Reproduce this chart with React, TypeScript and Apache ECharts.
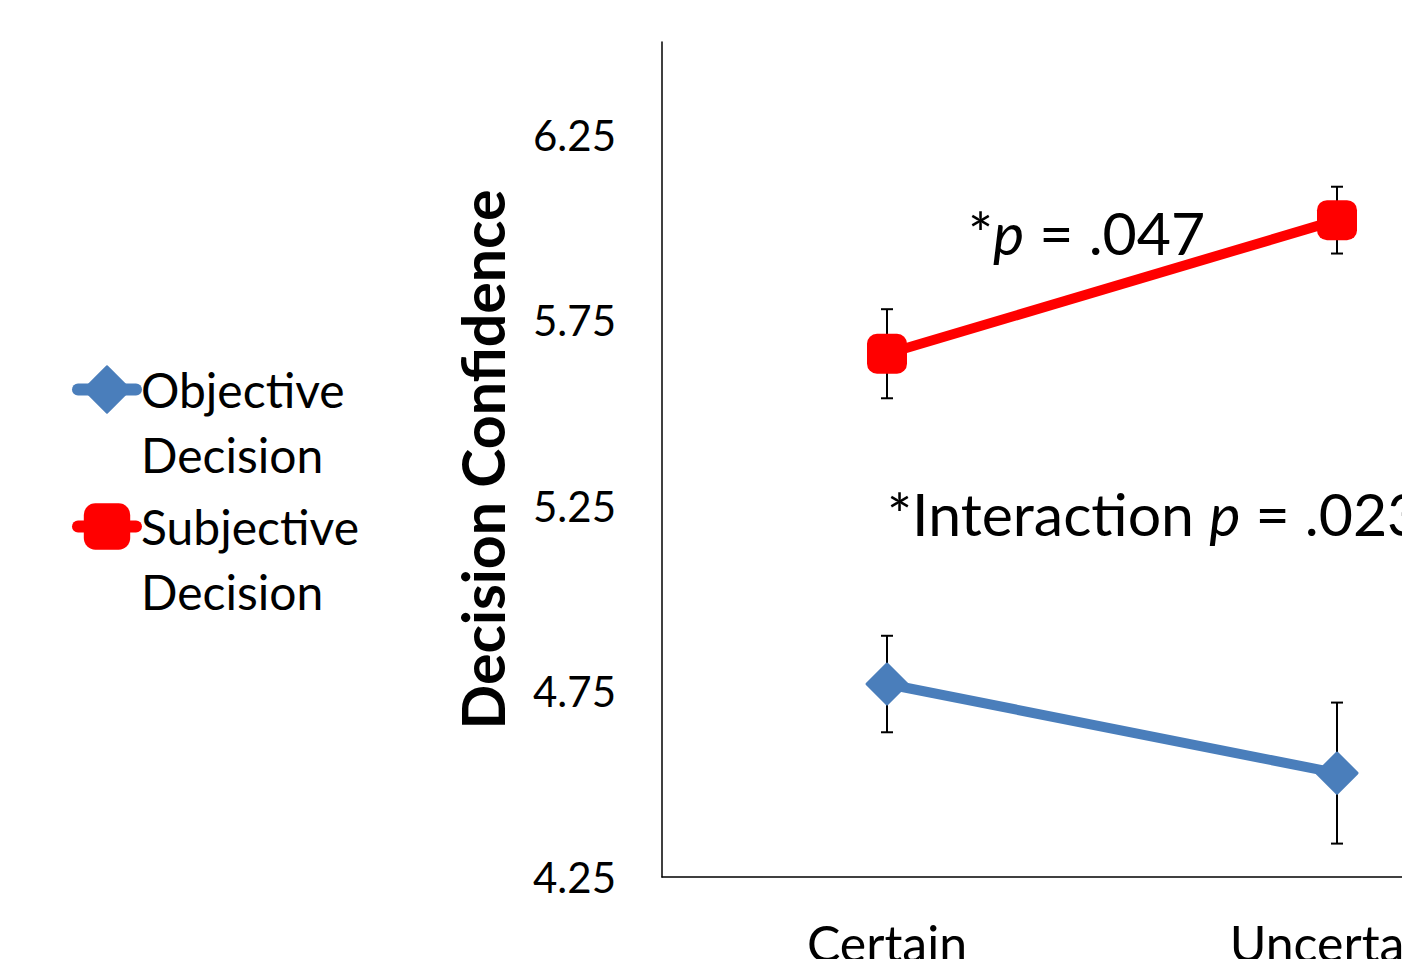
import React, { useEffect, useRef } from "react";
import * as echarts from "echarts";

const categories = ["Certain", "Uncertain"];
const objectiveMeans = [4.77, 4.53];
const objectiveErrors = [0.13, 0.19];
const subjectiveMeans = [5.66, 6.02];
const subjectiveErrors = [0.12, 0.09];
const yTickLabels = [4.25, 4.75, 5.25, 5.75, 6.25];
const seriesNames = ["Objective\nDecision", "Subjective\nDecision"];
const axisTitle = "Decision Confidence";
const annotationSimple = ["*", "p", " = .047"];
const annotationInteraction = ["*Interaction ", "p", " = .023"];

const BLUE = "#4A7EBB";
const RED = "#FF0000";
const FONT = "Lato";
// The chart is wider than the viewport: the reference crops the right part of the plot.
const CHART_W = 1602;
const CHART_H = 959;

export default function App() {
  const ref = useRef<HTMLDivElement>(null);

  useEffect(() => {
    document.body.style.margin = "0";
    document.body.style.overflow = "hidden";
    document.documentElement.style.overflow = "hidden";
    const chart = echarts.init(ref.current!, null, { renderer: "svg" });

    const errData = (means: number[], errs: number[]) =>
      means.map((m, i) => [i, m - errs[i], m + errs[i]]);

    const renderErr = (params: any, api: any) => {
      const x = api.value(0);
      const lo = api.coord([x, api.value(1)]);
      const hi = api.coord([x, api.value(2)]);
      const cap = 6;
      const style = { stroke: "#000", lineWidth: 2 };
      return {
        type: "group",
        children: [
          { type: "line", shape: { x1: lo[0], y1: lo[1], x2: hi[0], y2: hi[1] }, style },
          { type: "line", shape: { x1: lo[0] - cap, y1: lo[1], x2: lo[0] + cap, y2: lo[1] }, style },
          { type: "line", shape: { x1: hi[0] - cap, y1: hi[1], x2: hi[0] + cap, y2: hi[1] }, style },
        ],
      };
    };

    const richBase = { fontFamily: FONT, fontSize: 59, color: "#000" };

    chart.setOption({
      animation: false,
      backgroundColor: "#fff",
      grid: {
        left: 662,
        width: 900,
        top: 42,
        height: 835,
        containLabel: false,
        outerBoundsMode: "none",
      },
      legend: {
        data: seriesNames,
        orient: "vertical",
        left: 72,
        top: 292,
        padding: 0,
        itemWidth: 58,
        itemHeight: 58,
        itemGap: -58,
        formatter: (name: string) => "\n" + name,
        lineStyle: { width: 12, cap: "round" },
        textStyle: {
          fontFamily: FONT,
          fontSize: 48,
          color: "#000",
          lineHeight: 65,
        },
      },
      xAxis: {
        type: "category",
        data: categories,
        boundaryGap: true,
        axisLine: { lineStyle: { color: "#000", width: 1.5 } },
        axisTick: { show: false },
        axisLabel: { color: "#000", fontFamily: FONT, fontSize: 50, margin: 41 },
      },
      yAxis: {
        type: "value",
        min: 4.25,
        max: 6.5,
        interval: 0.25,
        name: axisTitle,
        nameLocation: "middle",
        nameGap: 150,
        nameTextStyle: { color: "#000", fontFamily: FONT, fontSize: 59, fontWeight: "bold" },
        axisLine: { show: true, lineStyle: { color: "#000", width: 1.5 } },
        axisTick: { show: false },
        splitLine: { show: false },
        axisLabel: {
          color: "#000",
          fontFamily: FONT,
          fontSize: 42,
          margin: 46,
          formatter: (v: number) =>
            yTickLabels.some((t) => Math.abs(t - v) < 1e-6) ? v.toFixed(2) : "",
        },
      },
      series: [
        {
          name: seriesNames[0],
          type: "line",
          data: objectiveMeans,
          symbol: "diamond",
          symbolSize: 40,
          z: 3,
          lineStyle: { color: BLUE, width: 10 },
          itemStyle: { color: BLUE, borderColor: BLUE, borderWidth: 3, borderJoin: "round" },
        },
        {
          name: seriesNames[1],
          type: "line",
          data: subjectiveMeans,
          symbol: "roundRect",
          symbolSize: 40,
          z: 3,
          lineStyle: { color: RED, width: 10 },
          itemStyle: { color: RED },
        },
        {
          type: "custom",
          name: "objErr",
          z: 1,
          renderItem: renderErr,
          encode: { x: 0, y: [1, 2] },
          data: errData(objectiveMeans, objectiveErrors),
        },
        {
          type: "custom",
          name: "subjErr",
          z: 1,
          renderItem: renderErr,
          encode: { x: 0, y: [1, 2] },
          data: errData(subjectiveMeans, subjectiveErrors),
        },
      ],
      graphic: [
        {
          type: "text",
          x: 968,
          y: 232,
          style: {
            text: `{a|${annotationSimple[0]}}{i|${annotationSimple[1]}}{a|${annotationSimple[2]}}`,
            verticalAlign: "middle",
            rich: {
              a: { ...richBase },
              i: { ...richBase, fontStyle: "italic" },
            },
          },
        },
        {
          type: "text",
          x: 887,
          y: 513,
          style: {
            text: `{a|${annotationInteraction[0]}}{i|${annotationInteraction[1]}}{a|${annotationInteraction[2]}}`,
            verticalAlign: "middle",
            rich: {
              a: { ...richBase },
              i: { ...richBase, fontStyle: "italic" },
            },
          },
        },
      ],
    });

    return () => chart.dispose();
  }, []);

  return <div ref={ref} style={{ width: CHART_W, height: CHART_H }} />;
}
